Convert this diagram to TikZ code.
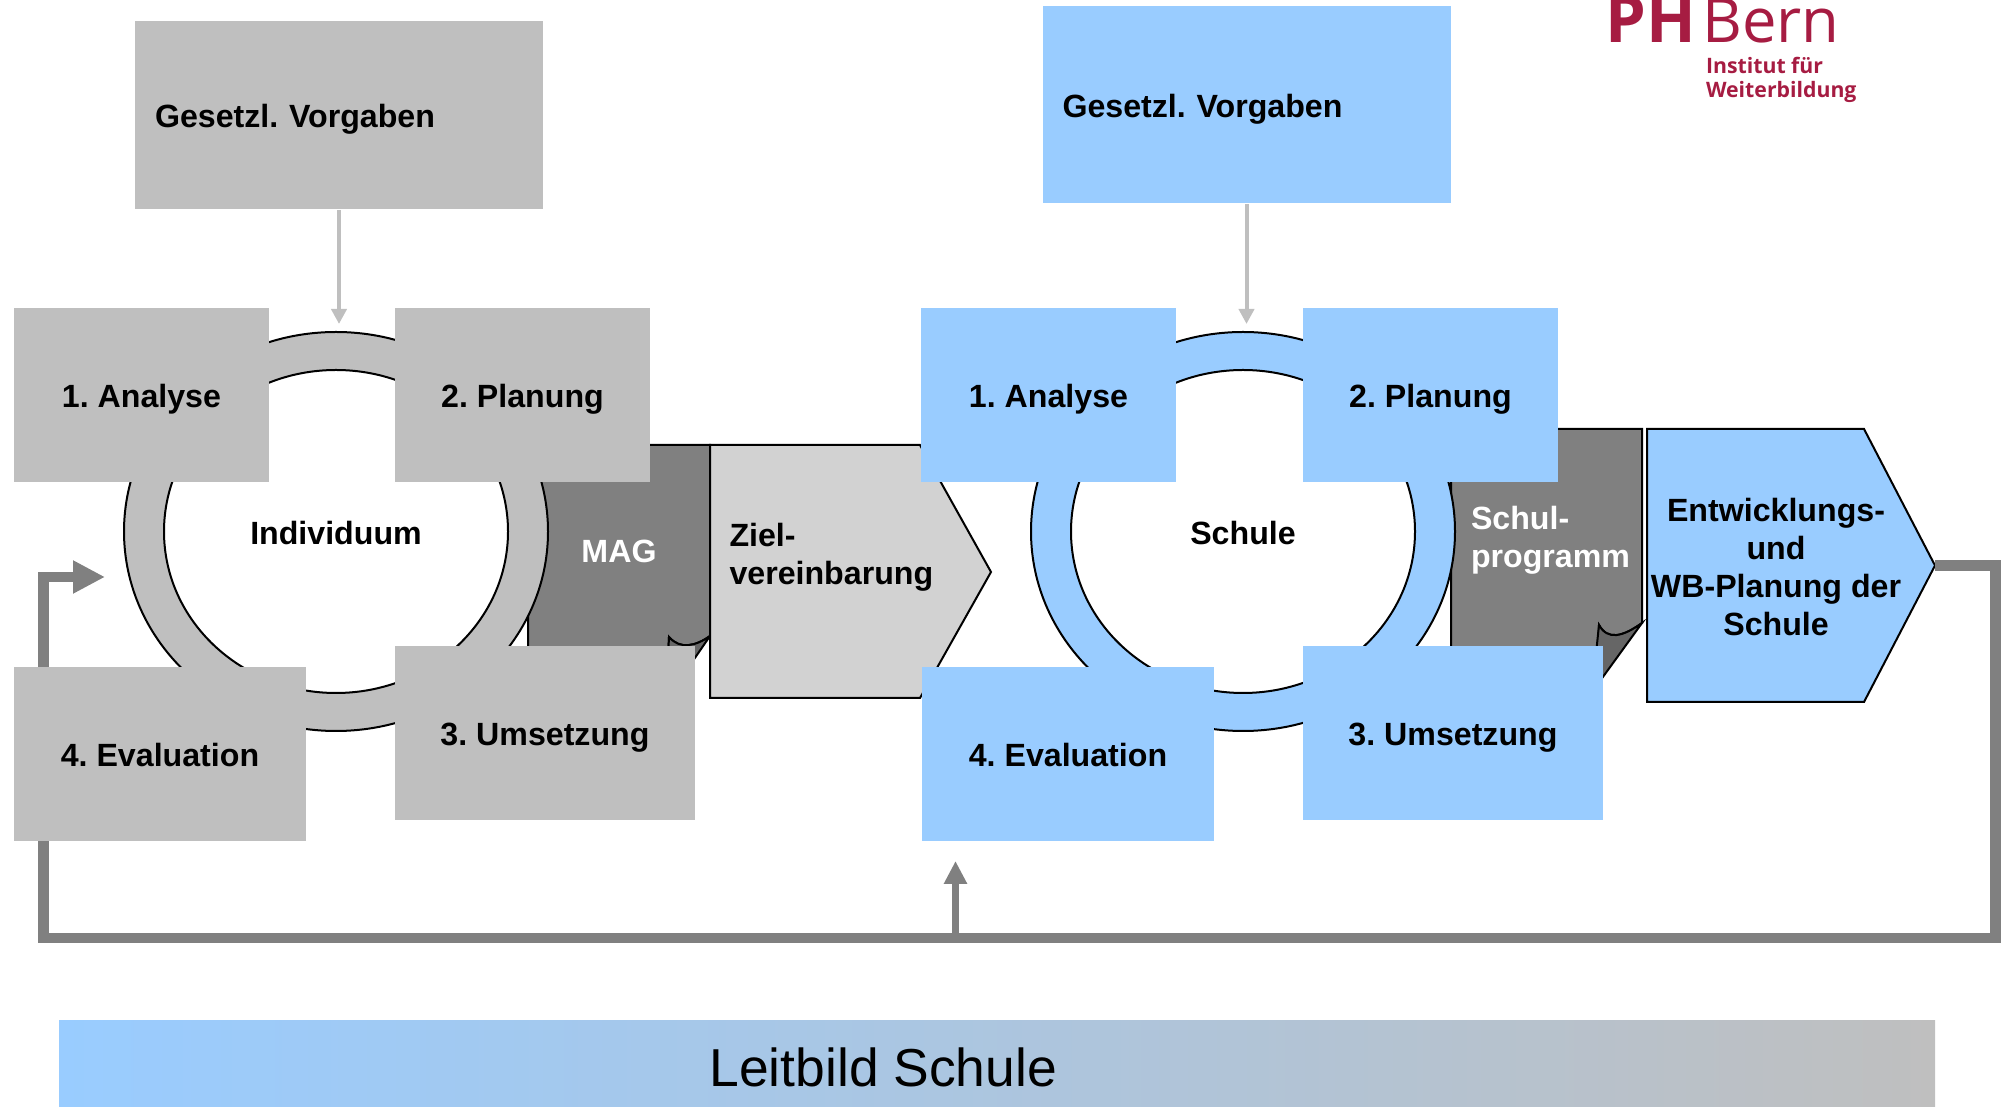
\documentclass[tikz,border=0pt]{standalone}
\usepackage{fontspec}
\setmainfont{Liberation Sans}
\newfontfamily\logofont{Open Sans}
\usetikzlibrary{arrows.meta,shapes.geometric}
\definecolor{grayfill}{HTML}{BFBFBF}
\definecolor{bluefill}{HTML}{99CCFF}
\definecolor{zielfill}{HTML}{D2D2D2}
\definecolor{docfill}{HTML}{808080}
\definecolor{foldfill}{HTML}{666666}
\definecolor{logored}{HTML}{A61C42}
\frenchspacing

\begin{document}
\begin{tikzpicture}[line width=0.04cm]
	\tikzset{every node/.style={inner sep=0pt,font=\fontsize{18.3}{21.8}\selectfont\bfseries}}
	\tikzset{one line/.style={text height=0.56cm,text depth=0.05cm}}
	\tikzset{step box/.style={rectangle,one line,minimum height=3.48cm}}
	\tikzset{law box/.style={rectangle,one line,text width=7.36cm,inner xsep=0.4cm,align=left}}
	\tikzset{outer ring/.style={ellipse,draw=black,minimum width=8.48cm,minimum height=7.98cm}}
	\tikzset{inner ring/.style={ellipse,one line,draw=black,fill=white,minimum width=6.88cm,minimum height=6.46cm}}
	\tikzset{doc line/.style={draw=black,fill=docfill}}
	\tikzset{fold line/.style={draw=black,fill=foldfill}}
	\tikzset{back line/.style={draw=docfill,line width=0.21cm}}
	\useasboundingbox (0,0) rectangle (40.18,22.14);
	\clip (0,0) rectangle (40.18,22.14);

	% logo
	\node[anchor=base west,text=logored,font=\logofont\fontsize{35}{36}\selectfont] (phbern) at (32.09,21.28) {{\fontsize{37}{36}\selectfont\bfseries PH}\hspace{0.1em}Bern};
	\node[anchor=base west,text=logored,align=left,font=\logofont\fontsize{12.1}{14.2}\selectfont\bfseries] (institut) at (34.1,20.18) {Institut für\\Weiterbildung};

	% documents behind the rings
	\path[doc line] (10.56,13.24) -- (14.2,13.24) -- (14.2,9.42) .. controls (13.92,9.22) and (13.6,9.14) .. (13.38,9.4) -- (13.32,8) -- (10.56,8) -- cycle;
	\path[fold line] (14.2,9.42) .. controls (13.92,9.22) and (13.6,9.14) .. (13.38,9.4) -- (13.32,8.14) -- cycle;
	\node[text=white,one line] (mag) at (12.38,11.15) {MAG};
	\path[doc line] (29.02,13.56) -- (32.84,13.56) -- (32.84,9.68) .. controls (32.45,9.4) and (32.15,9.33) .. (31.98,9.64) -- (31.9,8) -- (29.02,8) -- cycle;
	\path[fold line] (32.84,9.68) .. controls (32.45,9.4) and (32.15,9.33) .. (31.98,9.64) -- (31.84,8.3) -- cycle;
	\node[text=white,anchor=west,align=left] (schulprog) at (29.4,11.34) {Schul-\\programm};

	% rings
	\node[outer ring,fill=grayfill] (ringI) at (6.72,11.51) {};
	\node[inner ring] (innerI) at (6.72,11.51) {Individuum};
	\node[outer ring,fill=bluefill] (ringS) at (24.86,11.51) {};
	\node[inner ring] (innerS) at (24.86,11.51) {Schule};

	% pointed boxes
	\path[draw=black,fill=zielfill] (14.2,13.24) -- (18.4,13.24) -- (19.82,10.7) -- (18.4,8.18) -- (14.2,8.18) -- cycle;
	\node[anchor=west,align=left] (ziel) at (14.57,11) {Ziel-\\vereinbarung};
	\path[draw=black,fill=bluefill] (32.94,13.56) -- (37.28,13.56) -- (38.7,10.83) -- (37.28,8.1) -- (32.94,8.1) -- cycle;
	\node[align=center] (entw) at (35.52,10.8) {Entwicklungs-\\und\\WB-Planung der\\Schule};
	\coordinate (entwtip) at (38.7,10.83);

	% feedback lines
	\coordinate (fbright) at (39.91,10.83);
	\coordinate (fbbottomr) at (39.91,3.38);
	\coordinate (fbbottoml) at (0.87,3.38);
	\coordinate (fbleft) at (0.87,10.6);
	\coordinate (fbend) at (2.1,10.6);
	\coordinate (fbfork) at (19.11,3.38);
	\coordinate (fbup) at (19.11,4.92);
	\draw[back line,-{Triangle[length=0.64cm,width=0.62cm]}] (entwtip) -- (fbright) -- (fbbottomr) -- (fbbottoml) -- (fbleft) -- (fbend);
	\draw[draw=docfill,fill=docfill,line width=0.13cm,-{Triangle[length=0.46cm,width=0.44cm]}] (fbfork) -- (fbup);

	% step boxes
	\node[step box,fill=grayfill,minimum width=5.1cm] (analyseI) at (2.83,14.24) {1. Analyse};
	\node[step box,fill=grayfill,minimum width=5.1cm] (planungI) at (10.45,14.24) {2. Planung};
	\node[step box,fill=grayfill,minimum width=6cm] (umsetzungI) at (10.9,7.48) {3. Umsetzung};
	\node[step box,fill=grayfill,minimum width=5.84cm] (evalI) at (3.2,7.06) {4. Evaluation};
	\node[step box,fill=bluefill,minimum width=5.1cm] (analyseS) at (20.97,14.24) {1. Analyse};
	\node[step box,fill=bluefill,minimum width=5.1cm] (planungS) at (28.61,14.24) {2. Planung};
	\node[step box,fill=bluefill,minimum width=6cm] (umsetzungS) at (29.06,7.48) {3. Umsetzung};
	\node[step box,fill=bluefill,minimum width=5.84cm] (evalS) at (21.36,7.06) {4. Evaluation};

	% law boxes
	\node[law box,fill=grayfill,minimum height=3.76cm] (lawI) at (6.78,19.84) {Gesetzl. Vorgaben};
	\node[law box,fill=bluefill,minimum height=3.94cm] (lawS) at (24.93,20.05) {Gesetzl. Vorgaben};
	\coordinate (lawIend) at (6.78,15.66);
	\coordinate (lawSend) at (24.93,15.66);
	\draw[draw=grayfill,line width=0.08cm,-{Triangle[length=0.3cm,width=0.3cm]}] (lawI) -- (lawIend);
	\draw[draw=grayfill,line width=0.08cm,-{Triangle[length=0.3cm,width=0.3cm]}] (lawS) -- (lawSend);

	% mission bar
	\node[rectangle,left color=bluefill,right color=grayfill,minimum width=37.52cm,minimum height=1.82cm] (leitbild) at (19.94,0.81) {};
	\node[anchor=west,font=\fontsize{30.4}{31}\selectfont] (leitbildtext) at (14.17,0.8) {Leitbild Schule};
\end{tikzpicture}
\end{document}
